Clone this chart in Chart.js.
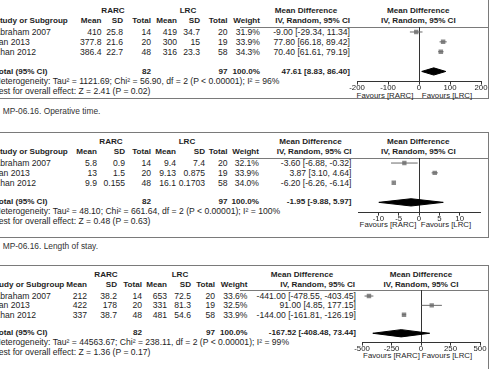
<!DOCTYPE html>
<html><head><meta charset="utf-8">
<script src="https://cdn.jsdelivr.net/npm/chart.js@4.4.0/dist/chart.umd.min.js"></script>
<style>
html,body{margin:0;padding:0;background:#fff;overflow:hidden;width:494px;height:369px;}
#page{position:relative;width:494px;height:369px;overflow:hidden;font-family:"Liberation Sans",Arial,sans-serif;color:#1e1e1e;}
.t{position:absolute;white-space:nowrap;font-size:8.6px;line-height:10px;}
.b{font-weight:bold;font-size:8.1px;}
.ln{position:absolute;background:#7a7a7a;}
.cv{position:absolute;}
</style></head><body><div id="page"></div>
<script>
// ---------- data ----------
const studies = ["Abraham 2007", "Tan 2013", "Khan 2012"];
const rarcTotal = [14, 20, 48];
const lrcTotal = [20, 19, 58];

// Panel 1 : Operative time
const p1RarcMean = [410, 377.8, 386.4];
const p1RarcSD = [25.8, 21.6, 22.7];
const p1LrcMean = [419, 300, 316];
const p1LrcSD = [34.7, 15, 23.3];
const p1Weight = [31.9, 33.9, 34.3];
const p1MD = [-9.00, 77.80, 70.40];
const p1Lo = [-29.34, 66.18, 61.61];
const p1Hi = [11.34, 89.42, 79.19];
const p1Total = [47.61, 8.83, 86.40];
const p1Ticks = [-200, -100, 0, 100, 200];
const p1Range = [-200, 200];
const p1Het = "Heterogeneity: Tau² = 1121.69; Chi² = 56.90, df = 2 (P < 0.00001); I² = 96%";
const p1Test = "Test for overall effect: Z = 2.41 (P = 0.02)";

// Panel 2 : Length of stay
const p2RarcMean = [5.8, 13, 9.9];
const p2RarcSD = [0.9, 1.5, 0.155];
const p2LrcMean = [9.4, 9.13, 16.1];
const p2LrcSD = [7.4, 0.875, 0.1703];
const p2Weight = [32.1, 33.9, 34.0];
const p2MD = [-3.60, 3.87, -6.20];
const p2Lo = [-6.88, 3.10, -6.26];
const p2Hi = [-0.32, 4.64, -6.14];
const p2Total = [-1.95, -9.88, 5.97];
const p2Ticks = [-10, -5, 0, 5, 10];
const p2Range = [-15, 15];
const p2Het = "Heterogeneity: Tau² = 48.10; Chi² = 661.64, df = 2 (P < 0.00001); I² = 100%";
const p2Test = "Test for overall effect: Z = 0.48 (P = 0.63)";

// Panel 3
const p3RarcMean = [212, 422, 337];
const p3RarcSD = [38.2, 178, 38.7];
const p3LrcMean = [653, 331, 481];
const p3LrcSD = [72.5, 81.3, 54.6];
const p3Weight = [33.6, 32.5, 33.9];
const p3MD = [-441.00, 91.00, -144.00];
const p3Lo = [-478.55, 4.85, -161.81];
const p3Hi = [-403.45, 177.15, -126.19];
const p3Total = [-167.52, -408.48, 73.44];
const p3Ticks = [-500, -250, 0, 250, 500];
const p3Range = [-500, 500];
const p3Het = "Heterogeneity: Tau² = 44563.67; Chi² = 238.11, df = 2 (P < 0.00001); I² = 99%";
const p3Test = "Test for overall effect: Z = 1.36 (P = 0.17)";

const captions = ["MP-06.16. Operative time.", "MP-06.16. Length of stay."];

// ---------- layout ----------
const W = 494;
const page = document.getElementById('page');
const FONT = '"Liberation Sans", Arial, sans-serif';

function txt(s, x, y, align, bold, size, family, color) {
  const e = document.createElement('div');
  e.className = 't' + (bold ? ' b' : '');
  e.textContent = s;
  e.style.top = (y - 5) + 'px';
  if (align === 'left') e.style.left = x + 'px';
  else if (align === 'right') e.style.right = (W - x) + 'px';
  else { e.style.left = x + 'px'; e.style.transform = 'translateX(-50%)'; }
  if (size) e.style.fontSize = size + 'px';
  if (family) e.style.fontFamily = family;
  if (color) e.style.color = color;
  page.appendChild(e);
}
function hline(x1, x2, y) {
  const e = document.createElement('div'); e.className = 'ln';
  e.style.left = x1 + 'px'; e.style.width = (x2 - x1) + 'px';
  e.style.top = Math.round(y) + 'px'; e.style.height = '1px';
  page.appendChild(e);
}
function vline(x, y1, y2) {
  const e = document.createElement('div'); e.className = 'ln';
  e.style.left = x + 'px'; e.style.width = '1px';
  e.style.top = y1 + 'px'; e.style.height = (y2 - y1) + 'px';
  page.appendChild(e);
}

const panels = [
  { rm: p1RarcMean, rs: p1RarcSD, lm: p1LrcMean, ls: p1LrcSD, w: p1Weight, md: p1MD, lo: p1Lo, hi: p1Hi,
    tot: p1Total, ticks: p1Ticks, range: p1Range, het: p1Het, test: p1Test,
    L: { hx: -5.5, rarcY: 10.5, headY: 21, rows: [32, 42, 52, 71.5], hetY: 81, testY: 91, hlY: 27, axisY: 81.7, favY: 96,
         axL: 357, axR: 481, m1: 101.5, sd1: 123, n1: 151, m2: 177, sd2: 200, n2: 227.5, w: 260, ci: 350,
         rarcC: 113, lrcC: 188, mdC: 306, ivR: 350, plotC: 418.3, fav1: 385, fav2: 447 } },
  { rm: p2RarcMean, rs: p2RarcSD, lm: p2LrcMean, ls: p2LrcSD, w: p2Weight, md: p2MD, lo: p2Lo, hi: p2Hi,
    tot: p2Total, ticks: p2Ticks, range: p2Range, het: p2Het, test: p2Test,
    L: { hx: -5.5, rarcY: 142, headY: 152, rows: [162.5, 172.5, 182.5, 201.5], hetY: 210.5, testY: 220.5, hlY: 157.5, axisY: 211.7, favY: 225,
         axL: 358, axR: 480, m1: 97, sd1: 125, n1: 151, m2: 176, sd2: 205, n2: 227.5, w: 259, ci: 351.5,
         rarcC: 111, lrcC: 187, mdC: 310.5, ivR: 351.5, plotC: 418.3, fav1: 388, fav2: 446 } },
  { rm: p3RarcMean, rs: p3RarcSD, lm: p3LrcMean, ls: p3LrcSD, w: p3Weight, md: p3MD, lo: p3Lo, hi: p3Hi,
    tot: p3Total, ticks: p3Ticks, range: p3Range, het: p3Het, test: p3Test,
    L: { hx: -9, rarcY: 275, headY: 285, rows: [296, 305.3, 314.6, 333], hetY: 342, testY: 352, hlY: 290, axisY: 342.3, favY: 356,
         axL: 362, axR: 480, m1: 87, sd1: 117, n1: 142, m2: 167, sd2: 191, n2: 215, w: 247.5, ci: 356,
         rarcC: 106, lrcC: 180, mdC: 302, ivR: 355, plotC: 421, fav1: 391.5, fav2: 447 } }
];

// borders & captions
hline(0, 489, 98); vline(488, 0, 98);
hline(0, 489, 132); vline(488, 132, 237); hline(0, 489, 236.5);
hline(0, 489, 265); vline(488, 265, 369);
const NARROW = '"Liberation Sans Narrow","Arial Narrow",sans-serif';
txt(captions[0], 2.7, 111, 'left', false, 8.4, NARROW, '#333');
txt(captions[1], 2.7, 246, 'left', false, 8.4, NARROW, '#333');

function ci(m, l, h) { return m.toFixed(2) + ' [' + l.toFixed(2) + ', ' + h.toFixed(2) + ']'; }

panels.forEach(P => {
  const L = P.L;
  const X = -5.5;
  txt('RARC', L.rarcC, L.rarcY, 'center', true);
  txt('LRC', L.lrcC, L.rarcY, 'center', true);
  txt('Mean Difference', L.mdC, L.rarcY, 'center', true);
  txt('Mean Difference', L.plotC, L.rarcY, 'center', true);
  txt('Study or Subgroup', L.hx, L.headY, 'left', true);
  txt('Mean', L.m1, L.headY, 'right', true);
  txt('SD', L.sd1, L.headY, 'right', true);
  txt('Total', L.n1, L.headY, 'right', true);
  txt('Mean', L.m2, L.headY, 'right', true);
  txt('SD', L.sd2, L.headY, 'right', true);
  txt('Total', L.n2, L.headY, 'right', true);
  txt('Weight', L.w, L.headY, 'right', true);
  txt('IV, Random, 95% CI', L.ivR, L.headY, 'right', true);
  txt('IV, Random, 95% CI', L.plotC, L.headY, 'center', true);
  hline(240, 488, L.hlY);
  studies.forEach((s, i) => {
    const y = L.rows[i];
    txt(s, X, y, 'left');
    txt(String(P.rm[i]), L.m1, y, 'right');
    txt(String(P.rs[i]), L.sd1, y, 'right');
    txt(String(rarcTotal[i]), L.n1, y, 'right');
    txt(String(P.lm[i]), L.m2, y, 'right');
    txt(String(P.ls[i]), L.sd2, y, 'right');
    txt(String(lrcTotal[i]), L.n2, y, 'right');
    txt(P.w[i].toFixed(1) + '%', L.w, y, 'right');
    txt(ci(P.md[i], P.lo[i], P.hi[i]), L.ci, y, 'right');
  });
  const ty = L.rows[3];
  txt('Total (95% CI)', X, ty, 'left', true);
  txt(String(rarcTotal.reduce((a, b) => a + b, 0)), L.n1, ty, 'right', true);
  txt(String(lrcTotal.reduce((a, b) => a + b, 0)), L.n2, ty, 'right', true);
  txt('100.0%', L.w, ty, 'right', true);
  txt(ci(P.tot[0], P.tot[1], P.tot[2]), L.ci, ty, 'right', true);
  txt(P.het, X, L.hetY, 'left');
  txt(P.test, X, L.testY, 'left');
  txt('Favours [RARC]', L.fav1, L.favY, 'center', false, 7.8);
  txt('Favours [LRC]', L.fav2, L.favY, 'center', false, 7.8);

  // ---- chart ----
  const wantW = L.axR - L.axL, wantH = L.axisY - L.hlY;
  let cw = wantW + 30, ch = wantH + 12;
  const wrap = document.createElement('div');
  wrap.className = 'cv';
  const c = document.createElement('canvas');
  c.width = cw; c.height = ch; c.style.width = cw + 'px'; c.style.height = ch + 'px';
  wrap.appendChild(c); page.appendChild(wrap);

  const s = (L.rows[3] - L.rows[0]) / 4;
  const ymin = 1 - (L.rows[0] - L.hlY) / s;
  const ymax = 1 + (L.axisY - L.rows[0]) / s;
  const h = 3.6 / s;

  const ds = [];
  P.lo.forEach((lo, i) => ds.push({ type: 'line', data: [{ x: lo, y: i + 1 }, { x: P.hi[i], y: i + 1 }],
    borderColor: '#6a6a6a', borderWidth: 1, pointRadius: 0, fill: false }));
  ds.push({ type: 'scatter', data: P.md.map((m, i) => ({ x: m, y: i + 1 })), pointStyle: 'rect',
    pointRadius: P.w.map(w => 1.3 + w * 0.055), backgroundColor: '#8a8a8a', borderColor: '#8a8a8a', borderWidth: 0 });
  ds.push({ type: 'line', data: [{ x: P.tot[1], y: 5 }, { x: P.tot[0], y: 5 - h }, { x: P.tot[2], y: 5 }],
    borderColor: '#000', borderWidth: 1, pointRadius: 0, fill: '+1', backgroundColor: '#000' });
  ds.push({ type: 'line', data: [{ x: P.tot[1], y: 5 }, { x: P.tot[0], y: 5 + h }, { x: P.tot[2], y: 5 }],
    borderColor: '#000', borderWidth: 1, pointRadius: 0, fill: false });

  const chart = new Chart(c, {
    type: 'scatter',
    data: { datasets: ds },
    options: {
      responsive: false, maintainAspectRatio: false, animation: false, events: [],
      layout: { padding: { left: 14, right: 10, top: 0, bottom: 0 } },
      plugins: { legend: { display: false }, tooltip: { enabled: false } },
      scales: {
        x: {
          type: 'linear', min: P.range[0], max: P.range[1],
          afterBuildTicks: sc => { sc.ticks = P.ticks.map(v => ({ value: v })); },
          grid: { display: true, drawOnChartArea: true, drawTicks: true, tickLength: 3,
                  color: ctx => (ctx.tick && ctx.tick.value === 0) ? '#333' : 'rgba(0,0,0,0)',
                  tickColor: '#333', lineWidth: 1 },
          border: { display: true, color: '#333', width: 1 },
          ticks: { font: { family: FONT, size: 7.8 }, color: '#222', padding: -1.5, maxRotation: 0, autoSkip: false,
                   callback: v => String(v) }
        },
        y: { type: 'linear', display: false, reverse: true, min: ymin, max: ymax }
      }
    }
  });
  // fit the chart area exactly onto the target axis span
  for (let k = 0; k < 4; k++) {
    const a = chart.chartArea;
    const nw = Math.round(chart.width + (wantW - (a.right - a.left)));
    const nh = Math.round(chart.height + (wantH - (a.bottom - a.top)));
    if (nw === chart.width && nh === chart.height) break;
    chart.resize(nw, nh);
  }
  const a = chart.chartArea;
  wrap.style.left = (L.axL - a.left) + 'px';
  wrap.style.top = (L.hlY - a.top) + 'px';
});
</script></body></html>
